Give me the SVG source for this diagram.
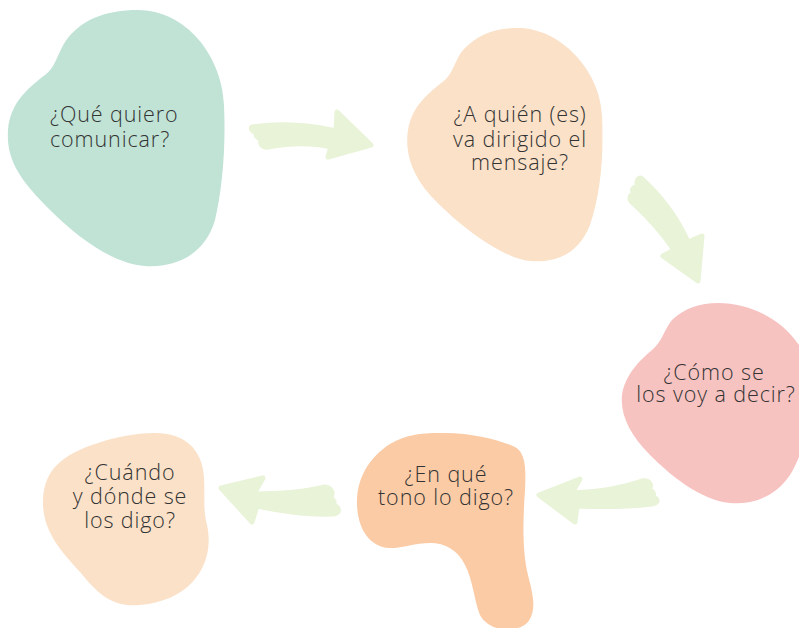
<svg xmlns="http://www.w3.org/2000/svg" width="799" height="628" viewBox="0 0 799 628">
<style>
.lbl{font-family:"Open Sans","Liberation Sans",sans-serif;font-size:21.5px;font-weight:300;fill:#333333;letter-spacing:0.9px}
.c{text-anchor:middle}
.arrow{fill:#e8f3d8;stroke:#e8f3d8;stroke-width:5;stroke-linejoin:round}
</style>
<rect width="799" height="628" fill="#ffffff"/>
<g id="connectors">
<path class="arrow" d="M 252 127 C 280 123, 310 125, 336 131 L 337 112 L 371 145 L 328 157 L 331 147 C 310 142, 290 143, 268 147 C 262 148, 258 142, 263 139 C 257 139, 254 134, 258 133 C 252 132, 250 128, 252 127 Z"/>
<path class="arrow" d="M 641 178 C 660 195, 676 215, 688 242 L 702 236 L 698 281 L 663 256 L 674 250 C 662 232, 648 217, 633 203 C 628 199, 630 193, 635 195 C 630 190, 634 185, 638 188 C 636 183, 637 178, 641 178 Z"/>
<path class="arrow" d="M 539 495 L 580 479 L 572 493 C 600 492, 625 487, 642 481 C 650 480, 653 486, 648 490 C 654 491, 656 496, 650 497 C 658 497, 660 503, 652 504 C 625 507, 600 507, 577 506 L 575 522 Z"/>
<path class="arrow" d="M 221 488 L 263 478 L 254 494 C 280 494, 305 492, 325 487 C 332 488, 334 494, 330 498 C 334 500, 336 503, 332 505 C 338 506, 342 512, 334 514 C 305 515, 280 511, 257 506 L 252 522 Z"/>
</g>
<g id="node1">
<path fill="#c0e3d6" d="M 138 10 C 185 10, 222 55, 224 105 C 226 150, 222 190, 215 220 C 205 255, 175 268, 145 266 C 115 264, 80 240, 50 210 C 20 180, 6 160, 8 130 C 10 105, 25 90, 45 75 C 55 68, 57 55, 65 42 C 80 20, 105 10, 138 10 Z"/>
<text class="lbl" x="50" y="122">¿Qué quiero</text>
<text class="lbl" x="50" y="147">comunicar?</text>
</g>
<g id="node2">
<path fill="#fae1c8" d="M 518 28 C 560 28, 600 70, 602 115 C 604 160, 600 195, 590 225 C 578 255, 555 263, 530 261 C 500 258, 455 222, 430 195 C 410 172, 405 150, 408 130 C 412 105, 430 92, 445 80 C 455 70, 455 58, 465 48 C 478 35, 495 28, 518 28 Z"/>
<text class="lbl c" x="520" y="122">¿A quién (es)</text>
<text class="lbl c" x="520" y="147">va dirigido el</text>
<text class="lbl c" x="520" y="170">mensaje?</text>
</g>
<g id="node3">
<path fill="#f7c3c1" d="M 718 303 C 760 303, 800 330, 810 370 C 815 410, 805 450, 790 475 C 775 498, 750 505, 730 503 C 700 500, 670 475, 650 455 C 630 435, 620 415, 622 395 C 625 375, 640 360, 652 350 C 662 342, 664 330, 672 320 C 685 308, 700 303, 718 303 Z"/>
<text class="lbl c" x="714" y="380">¿Cómo se</text>
<text class="lbl c" x="716" y="402">los voy a decir?</text>
</g>
<g id="node4">
<path fill="#fbcba6" d="M 440 433 C 470 432, 500 440, 515 447 C 526 453, 526 470, 525 490 C 523 520, 522 550, 528 575 C 533 595, 537 610, 528 622 C 520 632, 490 634, 480 615 C 474 600, 473 580, 465 565 C 458 550, 445 543, 430 543 C 415 543, 400 549, 388 548 C 370 546, 358 530, 357 505 C 356 480, 368 458, 390 444 C 405 435, 420 433, 440 433 Z"/>
<text class="lbl c" x="446" y="482">¿En qué</text>
<text class="lbl c" x="446" y="505">tono lo digo?</text>
</g>
<g id="node5">
<path fill="#fae1c8" d="M 155 433 C 185 433, 203 450, 204 478 C 205 500, 203 510, 207 525 C 215 560, 195 600, 140 605 C 110 608, 95 590, 80 572 C 60 550, 42 530, 43 500 C 44 470, 62 455, 95 444 C 115 437, 135 433, 155 433 Z"/>
<text class="lbl c" x="130" y="480">¿Cuándo</text>
<text class="lbl c" x="130" y="504">y dónde se</text>
<text class="lbl c" x="130" y="528">los digo?</text>
</g>
</svg>
